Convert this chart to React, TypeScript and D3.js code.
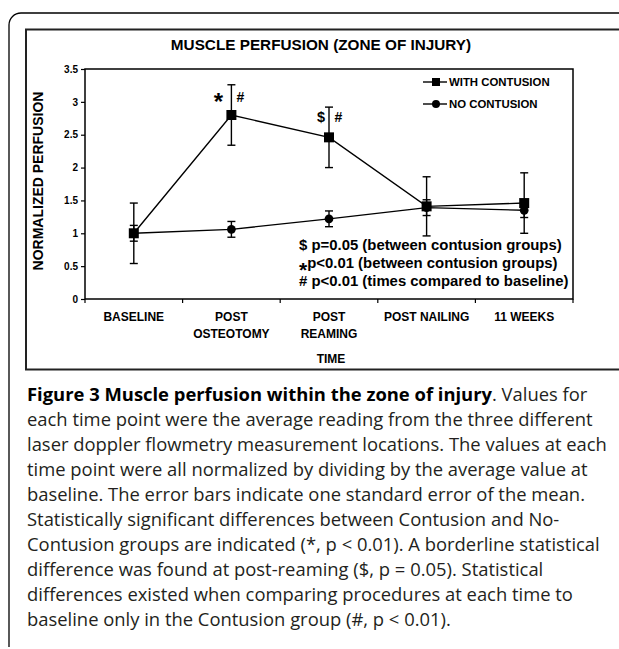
import { useEffect, useRef } from "react";
import * as d3 from "d3";

const timePoints = ["BASELINE", "POST OSTEOTOMY", "POST REAMING", "POST NAILING", "11 WEEKS"];
const tickLabels = [["BASELINE"], ["POST", "OSTEOTOMY"], ["POST", "REAMING"], ["POST NAILING"], ["11 WEEKS"]];
const contusionMean = [1.0, 2.8, 2.46, 1.41, 1.46];
const contusionErr = [0.46, 0.46, 0.46, 0.45, 0.46];
const noContusionMean = [1.0, 1.06, 1.22, 1.39, 1.35];
const noContusionErr = [0.12, 0.12, 0.12, 0.12, 0.11];
const yTicks = [0, 0.5, 1, 1.5, 2, 2.5, 3, 3.5];
const notes = [
  { mark: "$", text: " p=0.05 (between contusion groups)" },
  { mark: "*", text: "p<0.01 (between contusion groups)" },
  { mark: "#", text: " p<0.01 (times compared to baseline)" },
];
const captionBold = "Figure 3 Muscle perfusion within the zone of injury";
const captionLines = [
  ". Values for",
  "each time point were the average reading from the three different",
  "laser doppler flowmetry measurement locations. The values at each",
  "time point were all normalized by dividing by the average value at",
  "baseline. The error bars indicate one standard error of the mean.",
  "Statistically significant differences between Contusion and No-",
  "Contusion groups are indicated (*, p < 0.01). A borderline statistical",
  "difference was found at post-reaming ($, p = 0.05). Statistical",
  "differences existed when comparing procedures at each time to",
  "baseline only in the Contusion group (#, p < 0.01).",
];

const W = 619;
const H = 649;

function PerfusionChart() {
  const ref = useRef<SVGSVGElement | null>(null);

  useEffect(() => {
    const svg = d3.select(ref.current);
    svg.selectAll("*").remove();

    const font = "Arial, 'Liberation Sans', sans-serif";
    const left = 85, right = 573, top = 69, bottom = 299;

    // outer frame with rounded corner
    svg.append("path")
      .attr("d", `M9,647 L9,25 A12,12 0 0 1 21,13 L${W + 5},13`)
      .attr("fill", "none")
      .attr("stroke", "#000")
      .attr("stroke-width", 1.3);

    // chart box
    svg.append("rect")
      .attr("x", 26).attr("y", 29.5)
      .attr("width", 620).attr("height", 340)
      .attr("fill", "#fff")
      .attr("stroke", "#222")
      .attr("stroke-width", 2);

    const x = d3.scaleBand<string>().domain(timePoints).range([left, right]);
    const y = d3.scaleLinear().domain([0, 3.5]).range([bottom, top]);
    const cx = (i: number) => (x(timePoints[i]) as number) + x.bandwidth() / 2;

    const g = svg.append("g").attr("font-family", font).attr("font-weight", "bold").attr("fill", "#000");

    g.append("text")
      .attr("x", 321).attr("y", 50)
      .attr("text-anchor", "middle")
      .attr("font-size", 15.3)
      .text("MUSCLE PERFUSION (ZONE OF INJURY)");

    // plot frame
    g.append("rect")
      .attr("x", left).attr("y", top)
      .attr("width", right - left).attr("height", bottom - top)
      .attr("fill", "none")
      .attr("stroke", "#000")
      .attr("stroke-width", 1.5);

    // y axis
    const yAxis = g.append("g")
      .attr("transform", `translate(${left},0)`)
      .call(d3.axisLeft(y).tickValues(yTicks).tickSize(4).tickPadding(3).tickFormat(d3.format("")));
    yAxis.select(".domain").remove();
    yAxis.selectAll("line").attr("stroke", "#000").attr("stroke-width", 1.2);
    yAxis.selectAll("text").attr("font-size", 10).attr("font-family", font).attr("font-weight", "bold").attr("fill", "#000");

    // x ticks at band boundaries
    const bounds = timePoints.map((t) => x(t) as number).concat([right]);
    g.append("g").selectAll("line")
      .data(bounds)
      .join("line")
      .attr("x1", (d) => d).attr("x2", (d) => d)
      .attr("y1", bottom).attr("y2", bottom + 4)
      .attr("stroke", "#000")
      .attr("stroke-width", 1.2);

    tickLabels.forEach((lines, i) => {
      lines.forEach((l, j) => {
        g.append("text")
          .attr("x", cx(i)).attr("y", 321 + j * 17)
          .attr("text-anchor", "middle")
          .attr("font-size", 12)
          .text(l);
      });
    });

    g.append("text")
      .attr("x", 331).attr("y", 363)
      .attr("text-anchor", "middle")
      .attr("font-size", 12)
      .text("TIME");

    g.append("text")
      .attr("transform", "translate(43,181) rotate(-90)")
      .attr("text-anchor", "middle")
      .attr("font-size", 14)
      .text("NORMALIZED PERFUSION");

    const line = d3.line<number>().x((d, i) => cx(i)).y((d) => y(d));

    const drawSeries = (mean: number[], err: number[], marker: "square" | "circle") => {
      const s = g.append("g");
      s.append("path")
        .attr("d", line(mean))
        .attr("fill", "none")
        .attr("stroke", "#000")
        .attr("stroke-width", 1.4);
      mean.forEach((m, i) => {
        const px = cx(i);
        s.append("line")
          .attr("x1", px).attr("x2", px)
          .attr("y1", y(m - err[i])).attr("y2", y(m + err[i]))
          .attr("stroke", "#000").attr("stroke-width", 1.4);
        [m - err[i], m + err[i]].forEach((v) => {
          s.append("line")
            .attr("x1", px - 4).attr("x2", px + 4)
            .attr("y1", y(v)).attr("y2", y(v))
            .attr("stroke", "#000").attr("stroke-width", 1.4);
        });
      });
      const sym = marker === "square" ? d3.symbol(d3.symbolSquare, 100) : d3.symbol(d3.symbolCircle, 60);
      s.selectAll("path.m")
        .data(mean)
        .join("path")
        .attr("class", "m")
        .attr("transform", (d, i) => `translate(${cx(i)},${y(d)})`)
        .attr("d", sym())
        .attr("fill", "#000");
    };

    drawSeries(noContusionMean, noContusionErr, "circle");
    drawSeries(contusionMean, contusionErr, "square");

    // significance marks
    g.append("text").attr("x", cx(1) - 13).attr("y", 110).attr("text-anchor", "middle").attr("font-size", 24).text("*");
    g.append("text").attr("x", cx(1) + 9).attr("y", 102).attr("text-anchor", "middle").attr("font-size", 14).text("#");
    g.append("text").attr("x", cx(2) - 8).attr("y", 122).attr("text-anchor", "middle").attr("font-size", 14.5).text("$");
    g.append("text").attr("x", cx(2) + 9.5).attr("y", 122).attr("text-anchor", "middle").attr("font-size", 14).text("#");

    // legend
    const legend = g.append("g");
    [["WITH CONTUSION", "square"], ["NO CONTUSION", "circle"]].forEach(([label, m], i) => {
      const ly = 82 + i * 22;
      legend.append("line")
        .attr("x1", 423).attr("x2", 447)
        .attr("y1", ly).attr("y2", ly)
        .attr("stroke", "#000").attr("stroke-width", 1.4);
      legend.append("path")
        .attr("transform", `translate(436,${ly})`)
        .attr("d", (m === "square" ? d3.symbol(d3.symbolSquare, 64) : d3.symbol(d3.symbolCircle, 50))())
        .attr("fill", "#000");
      legend.append("text")
        .attr("x", 449).attr("y", ly + 4)
        .attr("font-size", 11.4)
        .text(label);
    });

    // notes
    notes.forEach((n, i) => {
      const ny = 250 + i * 18;
      const t = g.append("text").attr("x", 299).attr("y", ny).attr("font-size", 14.9);
      if (n.mark === "*") {
        t.append("tspan").attr("font-size", 21).attr("dy", 9).text(n.mark);
        t.append("tspan").attr("dy", -9).text(n.text);
      } else {
        t.text(n.mark + n.text);
      }
    });

    // caption
    const cap = svg.append("g")
      .attr("font-family", "'Open Sans', 'Noto Sans', sans-serif")
      .attr("font-size", 18.4)
      .attr("fill", "#231f20");
    captionLines.forEach((l, i) => {
      const t = cap.append("text").attr("x", 27).attr("y", 401 + i * 25);
      if (i === 0) {
        t.append("tspan").attr("font-weight", "bold").attr("fill", "#000").text(captionBold);
      }
      t.append("tspan").text(l);
    });
  }, []);

  return (
    <svg ref={ref} width={W} height={H} style={{ position: "absolute", left: 0, top: 0, background: "#fff" }} />
  );
}

export default function App() {
  return <PerfusionChart />;
}
